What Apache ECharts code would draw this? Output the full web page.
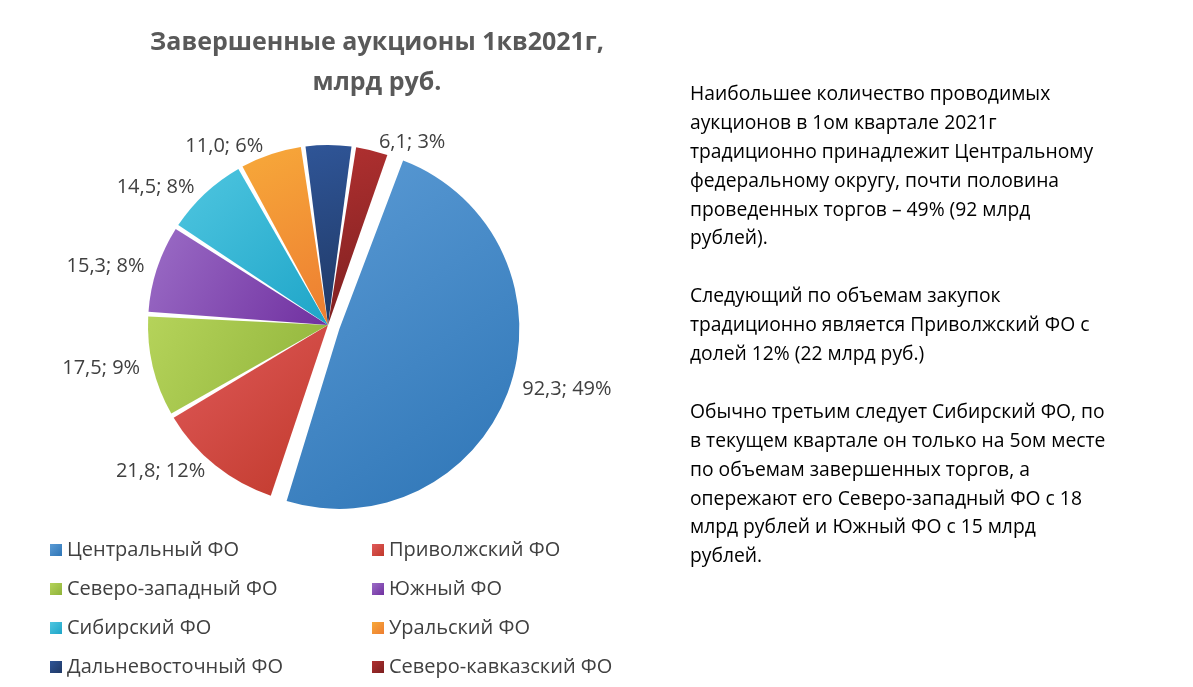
<!DOCTYPE html>
<html><head><meta charset="utf-8">
<script src="https://cdn.jsdelivr.net/npm/echarts@6/dist/echarts.min.js"></script>
<style>html,body{margin:0;padding:0;background:#fff}#c{width:1193px;height:687px}</style>
</head><body><div id="c"></div>
<script>
const categories=['Центральный ФО','Приволжский ФО','Северо-западный ФО','Южный ФО','Сибирский ФО','Уральский ФО','Дальневосточный ФО','Северо-кавказский ФО'];
const values=[92.3,21.8,17.5,15.3,14.5,11.0,8.4,6.1];
const percents=[49,12,9,8,8,6,4,3];
const showLabel=[true,true,true,true,true,true,false,true];
const colors=[['#5b9bd5','#2e75b6'],['#e05a5a','#c0392b'],['#b5d35a','#8fb33a'],['#9b6dc6','#7030a0'],['#4fc6e0','#1ea5c8'],['#f7a93a','#ed7d31'],['#2f5597','#1f3864'],['#b03030','#7b1f1f']];
const paragraphs=['Наибольшее количество проводимых\nаукционов в 1ом квартале 2021г\nтрадиционно принадлежит Центральному\nфедеральному округу, почти половина\nпроведенных торгов – 49% (92 млрд\nрублей).','Следующий по объемам закупок\nтрадиционно является Приволжский ФО с\nдолей 12% (22 млрд руб.)','Обычно третьим следует Сибирский ФО, по\nв текущем квартале он только на 5ом месте\nпо объемам завершенных торгов, а\nопережают его Северо-западный ФО с 18\nмлрд рублей и Южный ФО с 15 млрд\nрублей.'];
const fmt=v=>v.toFixed(1).replace('.',',');
const data=categories.map((n,i)=>({name:n,value:values[i],selected:i===0,
  itemStyle:{color:new echarts.graphic.LinearGradient(0,0,1,1,[{offset:0,color:colors[i][0]},{offset:1,color:colors[i][1]}])},
  label:{show:showLabel[i]}}));
const chart=echarts.init(document.getElementById('c'));
chart.setOption({
  animation:false,
  title:{text:'Завершенные аукционы 1кв2021г,\nмлрд руб.',left:372,textAlign:'center',top:18,
    textStyle:{fontFamily:'Open Sans',fontWeight:'bold',fontSize:25,color:'#595959',lineHeight:40}},
  legend:{left:45,top:533,width:660,orient:'horizontal',itemWidth:12,itemHeight:12,itemGap:15,icon:'rect',
    textStyle:{fontFamily:'Open Sans',fontSize:20,color:'#404040',width:290,lineHeight:24},data:categories},
  series:[{type:'pie',center:[328,325],radius:[0,180],startAngle:70,clockwise:true,padAngle:1.5,
    selectedMode:'single',selectedOffset:12,
    label:{position:'outside',fontFamily:'Open Sans',fontSize:20,color:'#404040',
      formatter:p=>fmt(p.value)+'; '+percents[p.dataIndex]+'%'},
    labelLine:{show:false,length:8,length2:0},
    data:data}],
  graphic:[{type:'text',left:690,top:80,style:{text:paragraphs.join('\n\n'),fontFamily:'Open Sans',fontSize:19.3,lineHeight:28.9,fill:'#000'}}]
});
</script></body></html>
